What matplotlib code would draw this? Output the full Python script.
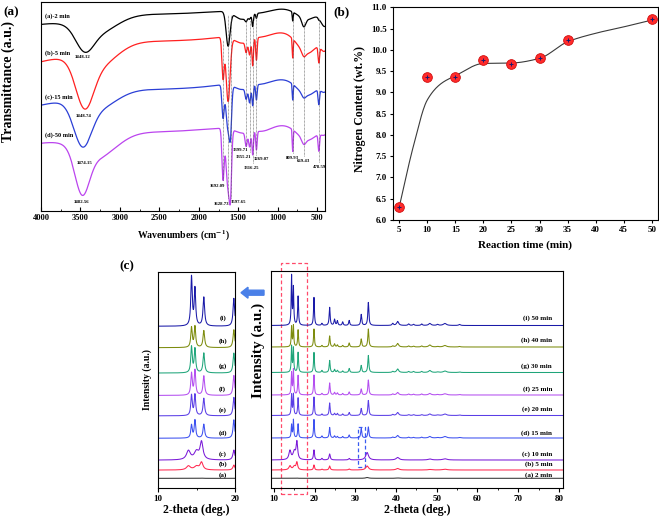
import numpy as np
import matplotlib
matplotlib.use('Agg')
import matplotlib.pyplot as plt
from matplotlib.patches import Rectangle, FancyArrow
from matplotlib.ticker import MultipleLocator, FormatStrFormatter

plt.rcParams['font.family'] = ['Liberation Serif', 'DejaVu Serif']
plt.rcParams['font.weight'] = 'bold'
plt.rcParams['axes.labelweight'] = 'bold'
plt.rcParams['mathtext.fontset'] = 'stix'
plt.rcParams['axes.linewidth'] = 0.8

# ---------------- (a) FTIR ----------------
ftir_names = ['(a)-2 min', '(b)-5 min', '(c)-15 min', '(d)-50 min']
ftir_colors = ['#000000', '#ff2020', '#2b3fd6', '#bb44ee']
ftir_top = [203, 180, 133, 87]           # level near 900 cm-1
oh_center = [3448, 3448, 3474, 3480]
oh_sigma = [110, 110, 110, 90]
oh_depth = [20, 42, 39, 41]
band_center = [4300, 3300, 2700, 1900, 1692, 1628, 1597, 1450, 1399, 1355,
               1316, 1269, 1200, 809, 620, 669, 478, 400]
band_sigma = [600, 250, 500, 450, 14, 25, 14, 90, 13, 13,
              9, 9, 120, 6, 130, 25, 9, 50]
depth_2min = [18, 19, 5, 2.9, 0, 34, 0, 9, 3.5, 3, 12, 5, 3.5, 9, 11, 8.5, 1.5, 15.8]
depth_5min = [34, 25, 8, 5.5, 40, 64, 0, 8, 10.6, 14.8, 27, 22.6, 4, 19, 22, 5, 15.5, 14.7]
depth_15min = [30, 20, 9, 6, 32, 45, 32.6, 7, 10.8, 16, 20, 15.3, 4, 15.8, 17, 4, 14.4, 9.9]
depth_50min = [21, 26, 6.5, 3.5, 50, 60, 43.4, 6, 13.7, 15, 23.4, 18.7, 6, 21.7, 16, 5.5, 16.4, 7]
ftir_depths = [depth_2min, depth_5min, depth_15min, depth_50min]
ftir_name_y = [195, 158, 114, 76]

peak_text = ['3448.12', '3448.74', '3474.15', '3482.56', '1692.09', '1628.73', '1597.65',
             '1399.71', '1355.21', '1316.25', '1269.07', '809.93', '669.43', '478.59']
peak_text_x = [3478, 3453, 3444, 3491, 1770, 1713, 1502, 1467, 1440, 1331, 1210, 810, 675, 471]
peak_text_y = [154, 95, 48, 9, 25, 7, 9, 61, 54, 43, 52, 53, 50, 44]
guide_x = [1692, 1628, 1597, 1399, 1355, 1316, 1269, 809, 669, 478]
guide_top = [171, 196, 196, 191, 191, 191, 197, 195, 189, 193]
guide_bottom = [31, 13, 13, 65, 59, 48, 56, 58, 55, 49]

# ---------------- (b) nitrogen ----------------
time = [5, 10, 15, 20, 25, 30, 35, 50]
nitrogen = [6.30, 9.35, 9.35, 9.75, 9.67, 9.80, 10.23, 10.72]
fit_time = [5, 7.5, 10, 12.5, 15, 20, 25, 30, 35, 40, 45, 50]
fit_val = [6.3, 7.72, 8.82, 9.21, 9.39, 9.68, 9.69, 9.8, 10.19, 10.39, 10.54, 10.7]

# ---------------- (c) XRD ----------------
xrd_tags = ['(a)', '(b)', '(c)', '(d)', '(e)', '(f)', '(g)', '(h)', '(i)']
xrd_times = ['2 min', '5 min', '10 min', '15 min', '20 min', '25 min', '30 min', '40 min', '50 min']
xrd_colors = ['#333333', '#ff2a50', '#7a1ad8', '#3c50f0', '#5a3ee6', '#b44ff0',
              '#1fa57a', '#7d8c0e', '#1a1aa8']
xrd_offset = [9.7, 18, 28, 50, 72.5, 93, 115.5, 141, 162.5]
xrd_label_y = [13, 24, 34, 55.3, 78.7, 99, 122, 148, 170.3]

cryst_pos = [14.35, 14.8, 15.95, 19.85, 21.8, 23.7, 24.9, 25.6, 26.9, 28.5, 31.45, 33.2,
             39.2, 40.4, 43.1, 44.3, 46.3, 48.3, 50.2, 52.0, 55.6]
cryst_fwhm = [0.22, 0.22, 0.25, 0.25, 0.3, 0.28, 0.3, 0.3, 0.3, 0.3, 0.3, 0.3,
              0.4, 0.6, 0.4, 0.4, 0.4, 0.7, 0.5, 0.9, 0.5]
h_15min = [13, 18, 14, 18.5, 2, 10.5, 2, 1.5, 1.5, 3, 9.5, 11, 0.8, 2.5, 0.8, 0.6, 0.8, 1.5, 0.5, 1.5, 0.5]
h_20min = [20.5, 21, 17.5, 18.5, 1.5, 12.5, 2, 2, 1.5, 3, 7, 15, 1, 3, 0.8, 0.8, 0.8, 1.5, 0.5, 1.5, 0.5]
h_25min = [22, 25, 19.5, 20, 1.5, 12, 2.5, 2, 1.5, 3, 6, 15, 1, 2.5, 1, 0.8, 1, 1.5, 0.5, 1.2, 0.5]
h_30min = [26, 24, 20, 20, 2, 12, 3, 2, 1.5, 4, 7, 17, 1, 3.5, 1, 1, 1, 2, 0.5, 1.5, 0.5]
h_40min = [20, 21, 17, 18, 1.5, 11, 3, 2, 1.5, 4, 8, 18, 1, 3.5, 1, 0.8, 1, 2, 0.5, 1.5, 0.5]
h_50min = [49, 37, 29, 28, 2, 18, 6, 4.5, 3.5, 5, 11, 23, 2, 4, 1.5, 1.2, 1.5, 2, 1, 2, 1]

amorph_pos = [13.95, 15.0, 15.65, 19.85, 21.8, 23.7, 28.5, 32.9, 40.4, 48.3, 52.0]
amorph_fwhm = [0.6, 0.7, 0.45, 0.3, 0.3, 0.35, 0.4, 0.8, 0.9, 1.0, 1.2]
h_2min = [0, 0, 0.2, 0.1, 0, 0.1, 0, 0.8, 0.3, 0, 0]
h_5min = [4, 3.5, 7.5, 5, 0.8, 4, 1, 4, 1.5, 0.5, 0.8]
h_10min = [9, 8, 17.5, 10, 1.5, 6, 1.5, 7.5, 2.5, 1, 1.2]

xrd_sets = [(amorph_pos, amorph_fwhm, h_2min), (amorph_pos, amorph_fwhm, h_5min),
            (amorph_pos, amorph_fwhm, h_10min), (cryst_pos, cryst_fwhm, h_15min),
            (cryst_pos, cryst_fwhm, h_20min), (cryst_pos, cryst_fwhm, h_25min),
            (cryst_pos, cryst_fwhm, h_30min), (cryst_pos, cryst_fwhm, h_40min),
            (cryst_pos, cryst_fwhm, h_50min)]


def gauss(x, c, s):
    return np.exp(-0.5 * ((x - c) / s) ** 2)


def lorentz(x, c, fwhm):
    return 1.0 / (1.0 + ((x - c) / (fwhm / 2.0)) ** 2)


def pchip(x, y, xs):
    x = np.asarray(x, float)
    y = np.asarray(y, float)
    h = np.diff(x)
    d = np.diff(y) / h
    m = np.zeros_like(y)
    m[0], m[-1] = d[0], d[-1]
    for k in range(1, len(x) - 1):
        if d[k - 1] * d[k] > 0:
            w1 = 2 * h[k] + h[k - 1]
            w2 = h[k] + 2 * h[k - 1]
            m[k] = (w1 + w2) / (w1 / d[k - 1] + w2 / d[k])
    idx = np.clip(np.searchsorted(x, xs) - 1, 0, len(x) - 2)
    t = (xs - x[idx]) / h[idx]
    h00 = 2 * t ** 3 - 3 * t ** 2 + 1
    h10 = t ** 3 - 2 * t ** 2 + t
    h01 = -2 * t ** 3 + 3 * t ** 2
    h11 = t ** 3 - t ** 2
    return h00 * y[idx] + h10 * h[idx] * m[idx] + h01 * y[idx + 1] + h11 * h[idx] * m[idx + 1]


fig = plt.figure(figsize=(6.59, 5.18), dpi=100)
W, H = 659.0, 518.0


def box(l, t, r, b):
    return [l / W, 1 - b / H, (r - l) / W, (b - t) / H]


# ---- panel (a)
ax1 = fig.add_axes(box(41, 2, 325, 211))
wn = np.linspace(400, 4000, 3601)
for k in range(4):
    T = ftir_top[k] - oh_depth[k] * gauss(wn, oh_center[k], oh_sigma[k])
    for c, s, dp in zip(band_center, band_sigma, ftir_depths[k]):
        T = T - dp * gauss(wn, c, s)
    ax1.plot(wn, T, color=ftir_colors[k], lw=0.9)
    ax1.text(3949, ftir_name_y[k], ftir_names[k], fontsize=4.5, ha='left', va='center')
for gx, gt, gb in zip(guide_x, guide_top, guide_bottom):
    ax1.plot([gx, gx], [gb, gt], ls=(0, (1, 1)), color='#555555', lw=0.5)
for s, px, py in zip(peak_text, peak_text_x, peak_text_y):
    ax1.text(px, py, s, fontsize=3.4, ha='center', va='center')
ax1.set_xlim(4000, 400)
ax1.set_ylim(0, 209)
ax1.set_yticks([])
ax1.xaxis.set_major_locator(MultipleLocator(500))
ax1.xaxis.set_minor_locator(MultipleLocator(250))
ax1.tick_params(axis='x', which='both', direction='in', labelsize=6, pad=2)
ax1.tick_params(axis='x', which='major', length=3)
ax1.tick_params(axis='x', which='minor', length=1.5)
ax1.set_xlabel(r'Wavenumbers (cm$^{\mathbf{-1}}$)', fontsize=7, labelpad=5)
ax1.set_ylabel('Transmittance (a.u.)', fontsize=10)
ax1.yaxis.set_label_coords(-0.09, 0.62)

# ---- panel (b)
ax2 = fig.add_axes(box(393, 7.3, 658, 220))
tt = np.linspace(5, 50, 400)
ax2.plot(tt, pchip(fit_time, fit_val, tt), color='#3a3a3a', lw=0.8)
ax2.plot(time, nitrogen, 'o', ms=7, mfc='#ff2a2a', mec='#d01010', mew=0.6)
ax2.plot(time, nitrogen, '+', ms=3.5, color='#1a1a70', mew=0.7)
ax2.set_xlim(3.9, 51.1)
ax2.set_ylim(6.0, 11.0)
ax2.set_xticks([5, 10, 15, 20, 25, 30, 35, 40, 45, 50])
ax2.yaxis.set_major_locator(MultipleLocator(0.5))
ax2.yaxis.set_major_formatter(FormatStrFormatter('%.1f'))
ax2.tick_params(direction='out', length=2.5, labelsize=6.5, pad=2)
ax2.set_xlabel('Reaction time (min)', fontsize=8, labelpad=4.5)
ax2.set_ylabel('Nitrogen Content (wt.%)', fontsize=8.5)
ax2.yaxis.set_label_coords(-0.102, 0.52)

# ---- panel (c)
tth = np.linspace(9.3, 81, 7171)
xrd_curves = []
for k in range(9):
    pos, fw, hh = xrd_sets[k]
    y = np.full_like(tth, xrd_offset[k])
    for p, f, h in zip(pos, fw, hh):
        y = y + h * lorentz(tth, p, f)
    xrd_curves.append(y)

ax3 = fig.add_axes(box(271, 271, 563, 488))
for k in range(9):
    ax3.plot(tth, xrd_curves[k], color=xrd_colors[k], lw=0.75)
    ax3.text(78.3, xrd_label_y[k], xrd_tags[k] + ' ' + xrd_times[k], fontsize=5,
             ha='right', va='center')
ax3.set_xlim(9.3, 81)
ax3.set_ylim(0, 217)
ax3.set_yticks([])
ax3.xaxis.set_major_locator(MultipleLocator(10))
ax3.xaxis.set_minor_locator(MultipleLocator(5))
ax3.tick_params(axis='x', which='both', direction='out', labelsize=6.5, pad=2)
ax3.tick_params(axis='x', which='major', length=3)
ax3.tick_params(axis='x', which='minor', length=1.5)
ax3.set_xlabel('2-theta (deg.)', fontsize=8.5, labelpad=0.5)
ax3.set_ylabel('Intensity (a.u.)', fontsize=11)
ax3.yaxis.set_label_coords(-0.02, 0.636)
ax3.add_patch(Rectangle((11.7, -0.028), 6.5, 1.065, transform=ax3.get_xaxis_transform(),
                        fill=False, ls=(0, (3, 2)), ec='#ff4a6a', lw=0.9, clip_on=False))
ax3.add_patch(Rectangle((30.7, 0.097), 1.8, 0.184, transform=ax3.get_xaxis_transform(),
                        fill=False, ls=(0, (3, 2)), ec='#3a5cf0', lw=0.9, clip_on=False))

ax4 = fig.add_axes(box(158, 272, 235, 488))
for k in range(9):
    ax4.plot(tth, xrd_curves[k], color=xrd_colors[k], lw=0.75)
    ax4.text(18.4, xrd_label_y[k], xrd_tags[k], fontsize=5, ha='center', va='center')
ax4.set_xlim(10, 20)
ax4.set_ylim(0, 217)
ax4.set_yticks([])
ax4.set_xticks([10, 20])
ax4.xaxis.set_minor_locator(MultipleLocator(5))
ax4.tick_params(axis='x', which='both', direction='out', labelsize=6.5, pad=2)
ax4.tick_params(axis='x', which='major', length=3)
ax4.tick_params(axis='x', which='minor', length=1.5)
ax4.set_xlabel('2-theta (deg.)', fontsize=8.5, labelpad=0.5)
ax4.set_ylabel('Intensity (a.u.)', fontsize=7)
ax4.yaxis.set_label_coords(-0.078, 0.5)

fig.add_artist(FancyArrow(264 / W, 1 - 292.7 / H, -16 / W, 0, width=5 / H,
                          head_width=11 / H, head_length=7 / W, length_includes_head=False,
                          color='#4a80e8', transform=fig.transFigure))

fig.text(3 / W, 1 - 12 / H, '(a)', fontsize=9.5, ha='left', va='center')
fig.text(333 / W, 1 - 12 / H, '(b)', fontsize=9.5, ha='left', va='center')
fig.text(127 / W, 1 - 266 / H, '(c)', fontsize=9.5, ha='center', va='center')

fig.savefig('out.png', dpi=100)
